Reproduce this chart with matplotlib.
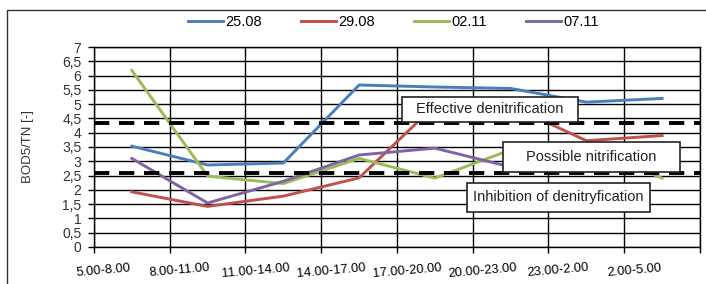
import numpy as np
import matplotlib
matplotlib.use("Agg")
import matplotlib.pyplot as plt
from matplotlib.patches import Rectangle

plt.rcParams['font.family'] = ['Liberation Sans', 'DejaVu Sans']
plt.rcParams['lines.scale_dashes'] = False

# time slots (x categories)
slots = ['5.00-8.00', '8.00-11.00', '11.00-14.00', '14.00-17.00',
         '17.00-20.00', '20.00-23.00', '23.00-2.00', '2.00-5.00']

# BOD5/TN ratio per sampling day
s2508 = [3.53, 2.87, 2.94, 5.67, 5.60, 5.55, 5.07, 5.20]
s2908 = [1.93, 1.42, 1.78, 2.42, 4.95, 4.95, 3.72, 3.90]
s0211 = [6.18, 2.48, 2.22, 3.10, 2.41, 3.40, 3.45, 2.41]
s0711 = [3.10, 1.54, 2.30, 3.22, 3.46, 2.80, 3.00, 3.10]

series = [('25.08', s2508, '#4a7ebb'),
          ('29.08', s2908, '#c0504d'),
          ('02.11', s0211, '#9bbb59'),
          ('07.11', s0711, '#8064a2')]

# threshold lines
upper_lim = 4.34
lower_lim = 2.58

fig = plt.figure(figsize=(7.06, 2.84), dpi=100)
ax = fig.add_axes([0.1331, 0.1303, 0.8584, 0.7042])

x = np.arange(len(slots))
for name, vals, col in series:
    ax.plot(x, vals, color=col, lw=2.1, label=name, zorder=3)

for lim in (upper_lim, lower_lim):
    ax.axhline(lim, color='black', lw=2.8, dashes=(11, 7), zorder=4)

ax.set_xlim(-0.5, len(slots) - 0.5)
ax.set_ylim(0, 7)

yt = np.arange(0, 7.01, 0.5)
ax.set_yticks(yt)
ax.set_yticklabels([('%g' % v).replace('.', ',') for v in yt])

# category borders carry the grid, labels sit just right of them
ax.set_xticks(np.arange(len(slots) + 1) - 0.5)
ax.set_xticklabels([])
ax.set_xticks(x - 0.37, minor=True)
ax.set_xticklabels(slots, minor=True, rotation=5, ha='center', va='center',
                   fontsize=9.3)
ax.tick_params(axis='x', which='minor', length=0, pad=17)
ax.tick_params(axis='x', which='major', length=4, width=1, direction='out')
ax.tick_params(axis='y', length=4, width=1, direction='out', pad=5,
               labelsize=10)
ax.tick_params(labelcolor='#333333')

ax.grid(True, which='major', color='black', lw=1.0, zorder=1)
ax.set_axisbelow(True)
for sp in ax.spines.values():
    sp.set_color('black')
    sp.set_linewidth(1.0)

ax.set_ylabel('BOD5/TN [-]', fontsize=9.5, color='#333333', labelpad=20)

# annotation boxes
boxes = [('Effective denitrification', 3.566, 4.375, 2.324, 0.875),
         ('Possible nitrification', 4.90, 2.625, 2.336, 1.05),
         ('Inhibition of denitryfication', 4.424, 1.225, 2.416, 1.015)]
for txt, bx, by, bw, bh in boxes:
    ax.add_patch(Rectangle((bx, by), bw, bh, facecolor='white',
                           edgecolor='#222222', lw=1.2, zorder=5))
    ax.text(bx + bw / 2, by + bh / 2, txt, ha='center', va='center',
            fontsize=10.5, color='#222222', zorder=6)

fig.legend(loc='center', bbox_to_anchor=(0.557, 0.923), ncol=4,
           frameon=False, fontsize=10.5, handlelength=2.4,
           handletextpad=0.15, columnspacing=2.7)

# outer chart frame
fig.add_artist(Rectangle((0.0099, -0.1), 1.1, 1.065, transform=fig.transFigure,
                         fill=False, edgecolor='#333333', lw=1.0))

fig.savefig('out.png', dpi=100)
